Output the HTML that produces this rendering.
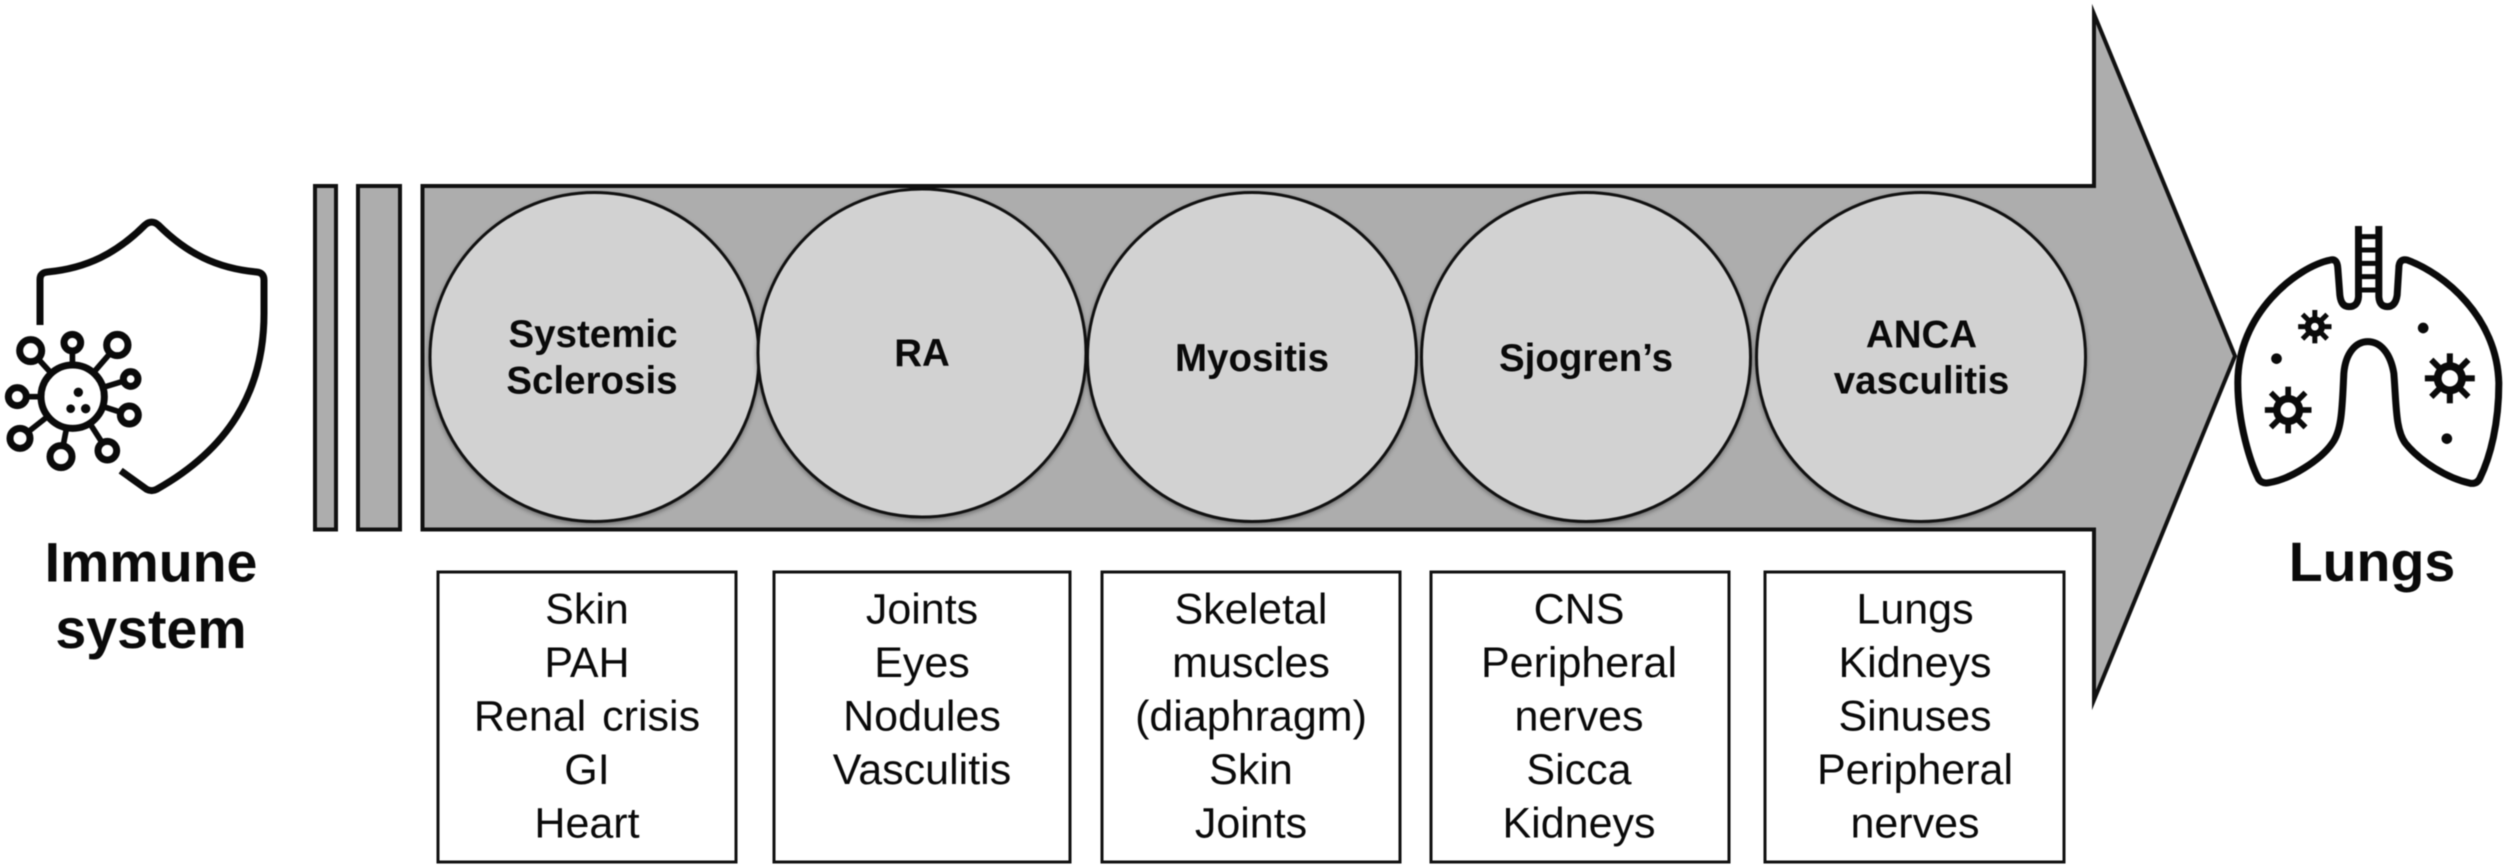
<!DOCTYPE html>
<html>
<head>
<meta charset="utf-8">
<style>
html,body{margin:0;padding:0;background:#fff;width:2508px;height:867px;overflow:hidden}
svg{display:block;filter:blur(0.55px)}
text{font-family:"Liberation Sans",Arial,sans-serif;text-anchor:middle;fill:#0a0a0a}
.b{font-weight:700;font-size:38.5px}
.h{font-weight:700;font-size:55.5px}
.t{font-size:43px}
.c{fill:#d2d2d2;stroke:#111;stroke-width:3;filter:drop-shadow(0 2px 2px rgba(0,0,0,.35))}
.r{fill:#fff;stroke:#111;stroke-width:3}
</style>
</head>
<body>
<svg width="2508" height="867" viewBox="0 0 2508 867" xmlns="http://www.w3.org/2000/svg">
<defs>
<g id="gear" fill="none" stroke="#0a0a0a">
<circle r="34" stroke-width="22"/>
<g stroke-width="17">
<line x1="0" y1="-36" x2="0" y2="-70"/><line x1="0" y1="36" x2="0" y2="70"/>
<line x1="-36" y1="0" x2="-70" y2="0"/><line x1="36" y1="0" x2="70" y2="0"/>
<line x1="-28" y1="-28" x2="-52" y2="-52"/><line x1="28" y1="-28" x2="52" y2="-52"/>
<line x1="-28" y1="28" x2="-52" y2="52"/><line x1="28" y1="28" x2="52" y2="52"/>
</g>
</g>
<g id="gears" fill="none" stroke="#0a0a0a">
<circle r="21" stroke-width="19"/>
<g stroke-width="15">
<line x1="0" y1="-24" x2="0" y2="-50"/><line x1="0" y1="24" x2="0" y2="50"/>
<line x1="-24" y1="0" x2="-50" y2="0"/><line x1="24" y1="0" x2="50" y2="0"/>
<line x1="-18" y1="-18" x2="-37" y2="-37"/><line x1="18" y1="-18" x2="37" y2="-37"/>
<line x1="-18" y1="18" x2="-37" y2="37"/><line x1="18" y1="18" x2="37" y2="37"/>
</g>
</g>
</defs>

<!-- bars -->
<rect x="315" y="186" width="21" height="343.5" fill="#adadad" stroke="#111" stroke-width="4"/>
<rect x="358" y="186" width="42" height="343.5" fill="#adadad" stroke="#111" stroke-width="4"/>
<!-- arrow -->
<polygon points="422.5,186 2094,186 2094,14 2235,356 2094,700 2094,529.5 422.5,529.5" fill="#adadad" stroke="#111" stroke-width="4" stroke-miterlimit="10"/>

<!-- circles -->
<circle class="c" cx="594.5" cy="357" r="164.5"/>
<circle class="c" cx="922" cy="353" r="164"/>
<circle class="c" cx="1252" cy="357" r="164.5"/>
<circle class="c" cx="1586" cy="357" r="164.5"/>
<circle class="c" cx="1921" cy="357" r="164.5"/>

<text class="b" x="593" y="347">Systemic</text>
<text class="b" x="592" y="393.5">Sclerosis</text>
<text class="b" x="922" y="366">RA</text>
<text class="b" x="1252" y="371">Myositis</text>
<text class="b" x="1586" y="371">Sjogren’s</text>
<text class="b" x="1921.5" y="347.5">ANCA</text>
<text class="b" x="1921.5" y="393.5">vasculitis</text>

<!-- boxes -->
<rect class="r" x="438" y="572" width="298" height="290"/>
<rect class="r" x="774" y="572" width="296" height="290"/>
<rect class="r" x="1102" y="572" width="298" height="290"/>
<rect class="r" x="1431" y="572" width="298" height="290"/>
<rect class="r" x="1765" y="572" width="299" height="290"/>

<g>
<text class="t" x="587" y="623.5">Skin</text>
<text class="t" x="587" y="677">PAH</text>
<text class="t" x="587" y="730.5" style="word-spacing:4px">Renal crisis</text>
<text class="t" x="587" y="784">GI</text>
<text class="t" x="587" y="837.5">Heart</text>

<text class="t" x="922" y="623.5">Joints</text>
<text class="t" x="922" y="677">Eyes</text>
<text class="t" x="922" y="730.5">Nodules</text>
<text class="t" x="922" y="784">Vasculitis</text>

<text class="t" x="1251" y="623.5">Skeletal</text>
<text class="t" x="1251" y="677">muscles</text>
<text class="t" x="1251" y="730.5">(diaphragm)</text>
<text class="t" x="1251" y="784">Skin</text>
<text class="t" x="1251" y="837.5">Joints</text>

<text class="t" x="1579" y="623.5">CNS</text>
<text class="t" x="1579" y="677">Peripheral</text>
<text class="t" x="1579" y="730.5">nerves</text>
<text class="t" x="1579" y="784">Sicca</text>
<text class="t" x="1579" y="837.5">Kidneys</text>

<text class="t" x="1915" y="623.5">Lungs</text>
<text class="t" x="1915" y="677">Kidneys</text>
<text class="t" x="1915" y="730.5">Sinuses</text>
<text class="t" x="1915" y="784">Peripheral</text>
<text class="t" x="1915" y="837.5">nerves</text>
</g>

<text class="h" x="151" y="581.5">Immune</text>
<text class="h" x="151" y="648">system</text>
<text class="h" x="2372" y="581">Lungs</text>

<!-- immune icon -->
<g transform="translate(0,180) scale(0.33333)" stroke="#0a0a0a" fill="none">
<path stroke-width="21" stroke-linejoin="round" d="M120 435 V298 Q120 278 142 276 C260 265 350 220 435 135 Q455 118 475 135 C560 220 650 265 770 276 Q792 278 792 300 V400 C792 640 680 810 470 928 Q455 936 440 928 L362 872"/>
<g stroke-width="17">
<line x1="218" y1="650" x2="92" y2="512"/>
<line x1="218" y1="650" x2="217" y2="488"/>
<line x1="218" y1="650" x2="352" y2="495"/>
<line x1="218" y1="650" x2="392" y2="597"/>
<line x1="218" y1="650" x2="388" y2="705"/>
<line x1="218" y1="650" x2="322" y2="812"/>
<line x1="218" y1="650" x2="183" y2="830"/>
<line x1="218" y1="650" x2="60" y2="775"/>
<line x1="218" y1="650" x2="52" y2="650"/>
</g>
<g stroke-width="21" fill="#fff">
<circle cx="218" cy="650" r="95"/>
<circle cx="92" cy="512" r="33"/>
<circle cx="217" cy="488" r="25"/>
<circle cx="352" cy="495" r="32"/>
<circle cx="392" cy="597" r="22"/>
<circle cx="388" cy="705" r="27"/>
<circle cx="322" cy="812" r="28"/>
<circle cx="183" cy="830" r="33"/>
<circle cx="60" cy="775" r="30"/>
<circle cx="52" cy="650" r="27"/>
</g>
<g fill="#0a0a0a" stroke="none">
<circle cx="235" cy="637" r="14"/>
<circle cx="212" cy="686" r="13"/>
<circle cx="257" cy="686" r="14"/>
</g>
</g>

<!-- lungs icon -->
<g transform="translate(2230.5,210) scale(0.33333)" stroke="#0a0a0a" fill="none">
<path stroke-width="21" stroke-linejoin="round" d="M300 150 C200 170 20 310 22 520 C22 640 60 760 85 808 Q95 822 115 818 C180 808 270 750 305 700 C335 660 335 590 340 490 C345 430 375 395 412 395 C450 395 480 430 490 490 C498 590 495 660 525 700 C570 755 650 805 720 820 Q740 822 748 805 C780 740 805 640 805 520 C800 320 640 190 530 150 Q505 145 505 175 L500 255 Q495 290 470 290 Q447 290 445 260 V48 M384 48 V260 Q382 290 355 290 Q332 290 328 255 L322 175 Q320 145 300 150"/>
<g stroke-width="15">
<line x1="384" y1="80" x2="445" y2="80"/>
<line x1="384" y1="120" x2="445" y2="120"/>
<line x1="384" y1="160" x2="445" y2="160"/>
<line x1="384" y1="200" x2="445" y2="200"/>
<line x1="384" y1="240" x2="445" y2="240"/>
</g>
<use href="#gear" transform="translate(173,600)"/>
<use href="#gear" transform="translate(658,505) scale(1.07)"/>
<use href="#gears" transform="translate(253,350)"/>
<g fill="#0a0a0a" stroke="none">
<circle cx="138" cy="446" r="16"/>
<circle cx="578" cy="354" r="16"/>
<circle cx="649" cy="686" r="16"/>
</g>
</g>
</svg>
</body>
</html>
